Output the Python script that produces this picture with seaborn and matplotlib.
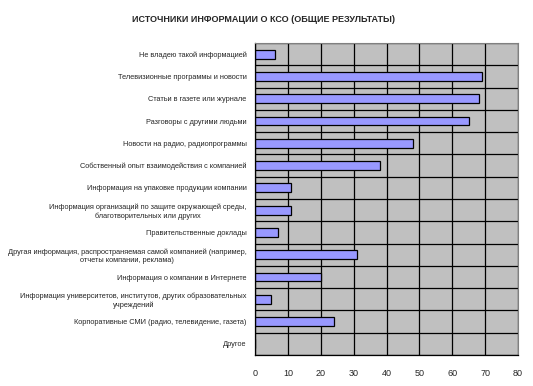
import numpy as np
import pandas as pd
import seaborn as sns
import matplotlib.pyplot as plt
from matplotlib import font_manager
from matplotlib.ticker import FixedLocator

categories = [
    "Не владею такой информацией",
    "Телевизионные программы и новости",
    "Статьи в газете или журнале",
    "Разговоры с другими людьми",
    "Новости на радио, радиопрограммы",
    "Собственный опыт взаимодействия с компанией",
    "Информация на упаковке продукции компании",
    "Информация организаций по защите окружающей среды,\nблаготворительных или других",
    "Правительственные доклады",
    "Другая информация, распространяемая самой компанией (например,\nотчеты компании, реклама)",
    "Информация о компании в Интернете",
    "Информация университетов, институтов, других образовательных\nучреждений",
    "Корпоративные СМИ (радио, телевидение, газета)",
    "Другое",
]
values = [6, 69, 68, 65, 48, 38, 11, 11, 7, 31, 20, 5, 24, 0]
x_ticks = [0, 10, 20, 30, 40, 50, 60, 70, 80]

df = pd.DataFrame({"source": categories, "share": values})

sns.set_style("white")
plt.rcParams["font.family"] = ["Liberation Sans", "DejaVu Sans"]

# condensed look of the labels: narrow face if there is one, else smaller size
installed = {f.name for f in font_manager.fontManager.ttflist}
if "Liberation Sans Narrow" in installed:
    label_family, label_size = ["Liberation Sans Narrow", "DejaVu Sans"], 6.2
else:
    label_family, label_size = ["Liberation Sans", "DejaVu Sans"], 5.3

fig = plt.figure(figsize=(5.33, 3.86), dpi=100)
ax = fig.add_axes([255 / 533, 1 - 355 / 386, 263 / 533, 312 / 386])
ax.set_facecolor("#C0C0C0")
ax.set_axisbelow(True)

sns.barplot(data=df, x="share", y="source", orient="h", color="#9999FF",
            edgecolor="black", linewidth=0.9, width=0.4, saturation=1, ax=ax)

ax.set_xlim(0, 80)
ax.set_ylim(len(categories) - 0.5, -0.5)
ax.set_xticks(x_ticks)
ax.set_xticklabels([str(t) for t in x_ticks], fontsize=6.5)
ax.tick_params(axis="x", length=2, width=0.8, color="black", pad=8)

# category labels centred, boundaries as minor ticks with gridlines
ax.tick_params(axis="y", which="major", length=0, pad=6)
for lab in ax.get_yticklabels():
    lab.set_fontsize(label_size)
    lab.set_family(label_family)
    lab.set_multialignment("center")
ax.yaxis.set_minor_locator(FixedLocator(np.arange(-0.5, len(categories), 1)))
ax.tick_params(axis="y", which="minor", length=4, width=0.8, color="black")

ax.grid(axis="x", which="major", color="black", linewidth=0.9)
ax.grid(axis="y", which="minor", color="black", linewidth=0.9)
ax.grid(axis="y", which="major", visible=False)

ax.set_xlabel("")
ax.set_ylabel("")
for side in ["top", "right"]:
    ax.spines[side].set_color("#808080")
    ax.spines[side].set_linewidth(0.8)
for side in ["left", "bottom"]:
    ax.spines[side].set_color("black")
    ax.spines[side].set_linewidth(0.9)

fig.text(263 / 533, 1 - 20 / 386, "ИСТОЧНИКИ ИНФОРМАЦИИ О КСО (ОБЩИЕ РЕЗУЛЬТАТЫ)",
         ha="center", va="center", fontsize=6.5, fontweight="bold")

fig.savefig("out.png", dpi=100)
